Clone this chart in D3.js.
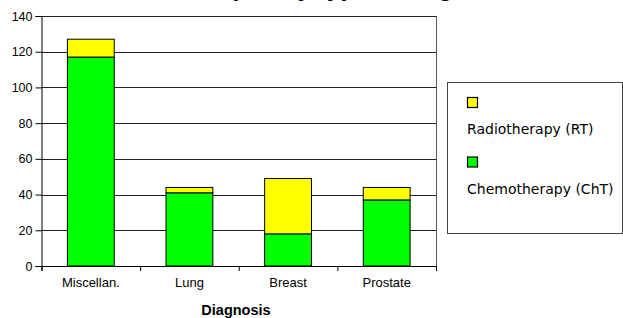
<!DOCTYPE html>
<html>
<head>
<meta charset="utf-8">
<script src="https://cdn.jsdelivr.net/npm/d3@7"></script>
<style>
  body { margin: 0; background: #fff; }
  svg { display: block; }
</style>
</head>
<body>
<div id="chart"></div>
<script>
// Données du graphique
const categories = ["Miscellan.", "Lung", "Breast", "Prostate"];
const chemo = [117, 41, 18, 37];   // Chemotherapy (ChT)
const radio = [10, 3, 31, 7];      // Radiotherapy (RT)
const yTicks = [0, 20, 40, 60, 80, 100, 120, 140];
const seriesNames = ["Radiotherapy (RT)", "Chemotherapy (ChT)"];
const seriesColors = ["#ffff00", "#00ff00"];
const titleText = "Frequency type & diagnosis";
const xTitle = "Diagnosis";

const width = 623;
const height = 318;
const plot = { left: 41.5, right: 436, top: 16, bottom: 266 };

const svg = d3.select("#chart")
  .append("svg")
  .attr("width", width)
  .attr("height", height);

// Échelles
const x = d3.scaleBand()
  .domain(categories)
  .range([plot.left, plot.right])
  .padding(0);

const xEdges = d3.scaleLinear()
  .domain([0, categories.length])
  .range([plot.left, plot.right]);

const y = d3.scaleLinear()
  .domain([0, 140])
  .range([plot.bottom, plot.top]);

// Titre (coupé en haut, comme dans l'original)
svg.append("text")
  .attr("x", 185)
  .attr("y", -4)
  .style("font-family", "Liberation Sans, Arial, sans-serif")
  .style("font-weight", "bold")
  .style("font-size", "25px")
  .text(titleText);

// Grille horizontale
svg.append("g")
  .selectAll("line")
  .data(yTicks.filter(d => d > 0))
  .enter()
  .append("line")
  .attr("x1", plot.left)
  .attr("x2", plot.right)
  .attr("y1", d => Math.round(y(d)) + 0.5)
  .attr("y2", d => Math.round(y(d)) + 0.5)
  .attr("stroke", "#222")
  .attr("stroke-width", 1);

// Bordure droite de la zone de tracé
svg.append("line")
  .attr("x1", plot.right + 0.5)
  .attr("x2", plot.right + 0.5)
  .attr("y1", plot.top)
  .attr("y2", plot.bottom)
  .attr("stroke", "#555");

// Barres empilées
const barW = x.bandwidth() * 0.475;
const stacks = categories.map((c, i) => ({ cat: c, chemo: chemo[i], radio: radio[i] }));

const g = svg.append("g");
g.selectAll("rect.chemo")
  .data(stacks)
  .enter()
  .append("rect")
  .attr("class", "chemo")
  .attr("x", d => x(d.cat) + (x.bandwidth() - barW) / 2)
  .attr("y", d => y(d.chemo))
  .attr("width", barW)
  .attr("height", d => y(0) - y(d.chemo))
  .attr("fill", seriesColors[1])
  .attr("stroke", "#000")
  .attr("stroke-width", 1);

g.selectAll("rect.radio")
  .data(stacks)
  .enter()
  .append("rect")
  .attr("class", "radio")
  .attr("x", d => x(d.cat) + (x.bandwidth() - barW) / 2)
  .attr("y", d => y(d.chemo + d.radio))
  .attr("width", barW)
  .attr("height", d => y(d.chemo) - y(d.chemo + d.radio))
  .attr("fill", seriesColors[0])
  .attr("stroke", "#000")
  .attr("stroke-width", 1);

// Axe Y
const yAxis = svg.append("g")
  .attr("transform", `translate(${plot.left},0)`)
  .call(d3.axisLeft(y).tickValues(yTicks).tickSize(6).tickPadding(3));
yAxis.selectAll("text")
  .style("font-family", "Liberation Sans, Arial, sans-serif")
  .style("font-size", "12.5px")
  .attr("fill", "#000");
yAxis.select(".domain").attr("stroke", "#000");
yAxis.selectAll(".tick line").attr("stroke", "#000");

// Axe X : étiquettes
const xAxis = svg.append("g")
  .attr("transform", `translate(0,${plot.bottom})`)
  .call(d3.axisBottom(x).tickSize(0).tickPadding(12));
xAxis.select(".domain").remove();
xAxis.selectAll("text")
  .style("font-family", "Liberation Sans, Arial, sans-serif")
  .style("font-size", "13px")
  .attr("fill", "#000");

// Axe X : graduations aux limites des catégories
const xTicksAxis = svg.append("g")
  .attr("transform", `translate(0,${plot.bottom})`)
  .call(d3.axisBottom(xEdges).tickValues(d3.range(categories.length + 1)).tickSize(5).tickFormat(""));
xTicksAxis.select(".domain").attr("stroke", "#000");
xTicksAxis.selectAll(".tick line").attr("stroke", "#000");

// Titre de l'axe X
svg.append("text")
  .attr("x", 236)
  .attr("y", 315)
  .attr("text-anchor", "middle")
  .style("font-family", "Liberation Sans, Arial, sans-serif")
  .style("font-weight", "bold")
  .style("font-size", "14.5px")
  .text(xTitle);

// Légende
const legend = svg.append("g");
legend.append("rect")
  .attr("x", 447.5)
  .attr("y", 82.5)
  .attr("width", 175)
  .attr("height", 151)
  .attr("fill", "#fff")
  .attr("stroke", "#444");

const items = legend.selectAll("g.item")
  .data(seriesNames)
  .enter()
  .append("g")
  .attr("transform", (d, i) => `translate(0,${i * 59.5})`);

items.append("rect")
  .attr("x", 467.5)
  .attr("y", 97.5)
  .attr("width", 10)
  .attr("height", 10)
  .attr("fill", (d, i) => seriesColors[i])
  .attr("stroke", "#000")
  .attr("stroke-width", 1.2);

items.append("text")
  .attr("x", 467)
  .attr("y", 134)
  .style("font-family", "DejaVu Sans, Verdana, sans-serif")
  .style("font-size", "14px")
  .attr("fill", "#000")
  .text(d => d);
</script>
</body>
</html>
